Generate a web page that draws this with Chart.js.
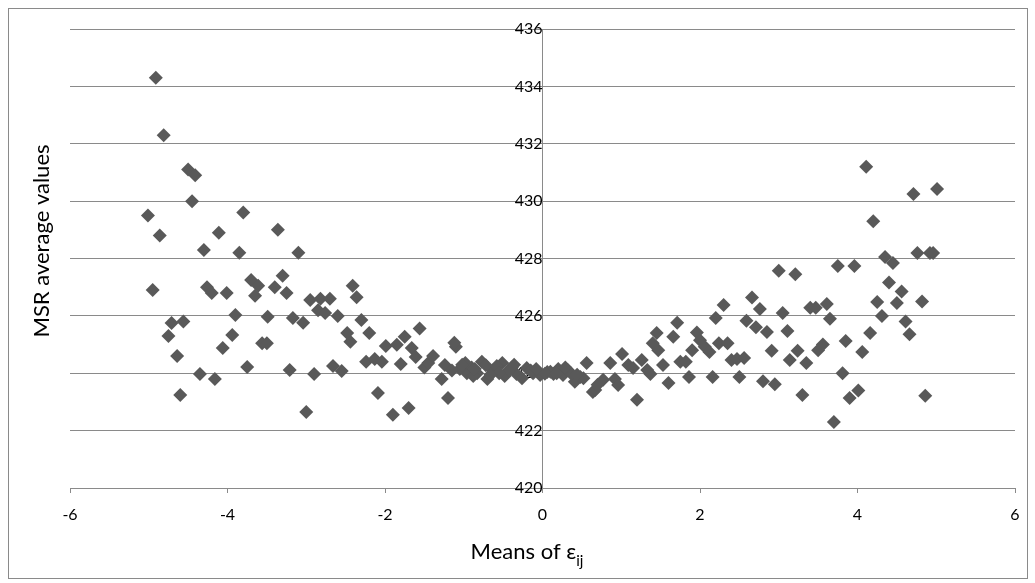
<!DOCTYPE html>
<html>
<head>
<meta charset="utf-8">
<title>MSR average values</title>
<script src="https://cdn.jsdelivr.net/npm/chart.js@4.4.1/dist/chart.umd.min.js"></script>
<style>
  html, body { margin: 0; padding: 0; background: #fff; }
</style>
</head>
<body>
<canvas id="msrChart" width="1035" height="583"></canvas>
<script>
// means of epsilon_ij (x) and the MSR average obtained for each (y)
const meansEps = [
  -4.91, -4.81, -5.01, -4.86, -4.95, -4.50, -4.41, -4.45, -4.30, -4.11,
  -3.85, -3.80, -3.36, -3.10, -4.26, -4.20, -4.01, -3.70, -3.61, -3.65,
  -3.40, -3.30, -3.25, -2.95, -2.82, -2.70, -2.85, -2.76, -2.60, -2.41,
  -2.36, -2.30, -4.71, -4.56, -4.75, -4.64, -4.35, -4.16, -4.60, -3.90,
  -3.94, -4.06, -3.49, -3.56, -3.50, -3.75, -3.21, -3.00, -2.90, -3.17,
  -3.04, -2.48, -2.44, -2.66, -2.55, -2.20, -2.24, -2.13, -2.04, -2.09,
  -1.99, -1.85, -1.75, -1.66, -1.61, -1.56, -1.80, -1.50, -1.45, -1.39,
  -1.24, -1.28, -1.10, -1.12, -1.20, -1.90, -1.70, -0.98, -0.96, -0.83,
  -0.77, -0.70, -0.63, -0.51, -0.48, -0.39, -0.33, -0.26, -0.20, -0.12,
  -0.03, -0.90, -0.58, -0.43, -0.15, -1.05, -0.88, -1.02, -0.86, -0.72,
  -0.55, -0.36, -0.08, -0.66, -1.15,
  0.06, 0.14, 0.20, 0.26, 0.32, 0.41, 0.48, 0.56, 0.52, 0.64,
  0.67, 0.70, 0.77, 0.86, 0.92, 0.96, 1.01, 1.09, 1.15, 1.20,
  1.26, 1.33, 1.37, 1.40, 1.45, 1.47, 1.53, 1.60, 1.66, 1.71,
  1.75, 1.82, 1.86, 1.90, 1.96, 2.00, 0.10, 0.36, 0.03, 0.18,
  0.29, 0.44,
  2.06, 2.12, 2.16, 2.20, 2.24, 2.30, 2.35, 2.40, 2.47, 2.50,
  2.56, 2.59, 2.66, 2.71, 2.76, 2.85, 2.91, 2.80, 2.95, 3.00,
  3.21, 3.05, 3.11, 3.14, 3.24, 3.35, 3.30, 3.40, 3.47, 3.61,
  3.65, 3.50, 3.56, 3.70, 3.75, 3.81, 3.85, 3.90, 3.96, 4.01,
  4.06,
  4.11, 4.20, 4.71, 5.01, 4.35, 4.45, 4.76, 4.92, 4.96, 4.40,
  4.56, 4.25, 4.50, 4.82, 4.31, 4.61, 4.66, 4.16, 4.86
];
const msrAvg = [
  434.30, 432.30, 429.50, 428.80, 426.90, 431.10, 430.90, 430.00, 428.30, 428.90,
  428.20, 429.60, 429.00, 428.20, 427.00, 426.80, 426.80, 427.25, 427.05, 426.70,
  427.00, 427.40, 426.80, 426.55, 426.60, 426.60, 426.20, 426.10, 426.00, 427.05,
  426.65, 425.86, 425.75, 425.80, 425.30, 424.60, 423.97, 423.80, 423.24, 426.03,
  425.33, 424.88, 425.97, 425.05, 425.05, 424.22, 424.11, 422.65, 423.97, 425.93,
  425.76, 425.40, 425.10, 424.25, 424.08, 425.40, 424.40, 424.50, 424.40, 423.31,
  424.95, 424.99, 425.27, 424.88, 424.57, 425.56, 424.32, 424.20, 424.36, 424.60,
  424.29, 423.80, 424.92, 425.06, 423.14, 422.55, 422.79, 424.36, 424.00, 424.00,
  424.40, 423.80, 424.10, 424.36, 423.90, 424.20, 423.97, 423.83, 424.18, 424.00,
  423.94, 424.20, 424.25, 424.10, 424.10, 424.15, 423.90, 424.30, 424.15, 424.28,
  424.00, 424.30, 424.15, 423.95, 424.10,
  424.04, 423.97, 424.15, 423.94, 424.11, 423.70, 423.87, 424.36, 423.83, 423.35,
  423.42, 423.60, 423.77, 424.36, 423.80, 423.59, 424.67, 424.29, 424.18, 423.08,
  424.46, 424.11, 423.97, 425.05, 425.40, 424.80, 424.29, 423.66, 425.27, 425.76,
  424.40, 424.40, 423.87, 424.80, 425.42, 425.15, 424.05, 424.00, 423.98, 424.00,
  424.20, 423.95,
  424.92, 424.74, 423.87, 425.93, 425.05, 426.38, 425.05, 424.46, 424.50, 423.87,
  424.53, 425.83, 426.64, 425.60, 426.24, 425.44, 424.78, 423.72, 423.62, 427.57,
  427.45, 426.10, 425.47, 424.46, 424.78, 424.36, 423.24, 426.28, 426.28, 426.41,
  425.90, 424.80, 425.00, 422.30, 427.74, 424.00, 425.12, 423.14, 427.74, 423.40,
  424.74,
  431.20, 429.30, 430.25, 430.42, 428.05, 427.84, 428.19, 428.19, 428.19, 427.16,
  426.85, 426.48, 426.45, 426.50, 426.00, 425.80, 425.36, 425.40, 423.22
];

const xRange = [-6, 6];
const yRange = [420, 436];
const xTitle = 'Means of ε';
const xTitleSub = 'ij';
const yTitle = 'MSR average values';

const points = meansEps.map((x, i) => ({ x: x, y: msrAvg[i] }));

const FONT = 'Lato, "Open Sans", sans-serif';
const GRID = '#8a8a8a';

// outer frame and the two axis titles (the x title needs a subscript)
const frameAndTitles = {
  id: 'frameAndTitles',
  afterDraw(chart) {
    const ctx = chart.ctx;
    ctx.save();
    ctx.strokeStyle = GRID;
    ctx.lineWidth = 1;
    ctx.strokeRect(8.5, 8.5, 1019, 570);

    ctx.fillStyle = '#000';
    ctx.font = '22px ' + FONT;
    ctx.textAlign = 'center';
    ctx.textBaseline = 'middle';
    ctx.save();
    ctx.translate(42, 241);
    ctx.rotate(-Math.PI / 2);
    ctx.fillText(yTitle, 0, 0);
    ctx.restore();

    ctx.textAlign = 'left';
    ctx.textBaseline = 'alphabetic';
    const mainW = ctx.measureText(xTitle).width;
    ctx.font = '15px ' + FONT;
    const subW = ctx.measureText(xTitleSub).width;
    const left = 527 - (mainW + subW) / 2;
    ctx.font = '22px ' + FONT;
    ctx.fillText(xTitle, left, 559);
    ctx.font = '15px ' + FONT;
    ctx.fillText(xTitleSub, left + mainW, 566);
    ctx.restore();
  }
};

const ctx = document.getElementById('msrChart');

const msrChart = new Chart(ctx, {
  type: 'scatter',
  data: {
    datasets: [{
      data: points,
      pointStyle: 'rectRot',
      pointRadius: 7,
      pointHoverRadius: 7,
      pointBorderWidth: 0,
      backgroundColor: '#595959',
      borderColor: '#595959'
    }]
  },
  options: {
    responsive: false,
    animation: false,
    devicePixelRatio: 1,
    events: [],
    layout: {
      padding: { left: 70, right: 20, top: 29, bottom: 0 }
    },
    plugins: {
      legend: { display: false },
      tooltip: { enabled: false }
    },
    scales: {
      x: {
        type: 'linear',
        position: 'bottom',
        min: xRange[0],
        max: xRange[1],
        // room under the axis for the tick labels and the title
        afterFit(scale) {
          scale.height = 95;
        },
        ticks: {
          stepSize: 2,
          color: '#000',
          font: { family: FONT, size: 16 },
          padding: 12
        },
        grid: {
          drawOnChartArea: false,
          drawTicks: true,
          tickLength: 5,
          color: GRID
        },
        border: { color: GRID }
      },
      y: {
        type: 'linear',
        position: { x: 0 },
        min: yRange[0],
        max: yRange[1],
        ticks: {
          stepSize: 2,
          color: '#000',
          font: { family: FONT, size: 16 },
          padding: 4
        },
        grid: {
          color: GRID,
          tickLength: 5
        },
        border: { color: GRID }
      }
    }
  },
  plugins: [frameAndTitles]
});
</script>
</body>
</html>
